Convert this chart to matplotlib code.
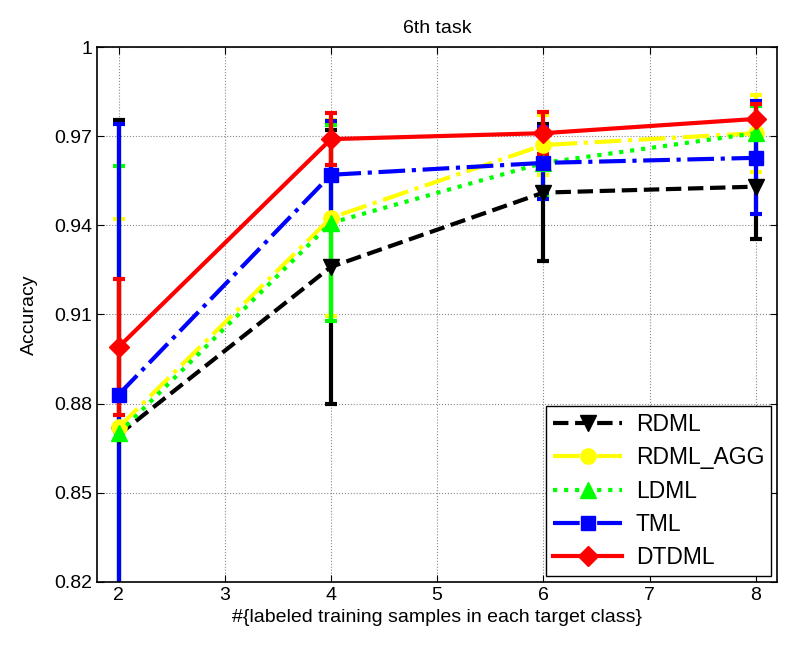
import numpy as np
import matplotlib
matplotlib.use('Agg')
import matplotlib.pyplot as plt
from matplotlib.lines import Line2D

plt.rcParams['font.family'] = ['Liberation Sans', 'DejaVu Sans']

samples = [2, 4, 6, 8]
methods = ['RDML', 'RDML_AGG', 'LDML', 'TML', 'DTDML']

rdml = [0.8695, 0.926, 0.951, 0.953]
rdml_err = [0.106, 0.046, 0.023, 0.0175]
rdml_agg = [0.872, 0.9425, 0.967, 0.971]
rdml_agg_err = [0.070, 0.033, 0.010, 0.013]
ldml = [0.870, 0.9408, 0.961, 0.971]
ldml_err = [0.090, 0.033, 0.011, 0.009]
tml = [0.883, 0.957, 0.961, 0.9627]
tml_err = [0.091, 0.018, 0.012, 0.019]
dtdml = [0.899, 0.969, 0.971, 0.9758]
dtdml_err = [0.023, 0.0088, 0.007, 0.005]

yticks = [0.82, 0.85, 0.88, 0.91, 0.94, 0.97, 1.0]
ytick_labels = ['0.82', '0.85', '0.88', '0.91', '0.94', '0.97', '1']

series = [
    (rdml, rdml_err, 'k', '--', 'v', 12),
    (rdml_agg, rdml_agg_err, '#ffff00', '-.', 'o', 11),
    (ldml, ldml_err, '#00ff00', ':', '^', 12),
    (tml, tml_err, '#0000ff', '-.', 's', 10),
    (dtdml, dtdml_err, '#ff0000', '-', 'D', 10),
]

fig = plt.figure(figsize=(8.11, 6.53), dpi=100)
ax = fig.add_axes([0.12, 0.109, 0.838, 0.819])

handles = []
for (vals, err, col, ls, mk, ms), name in zip(series, methods):
    ax.errorbar(samples, vals, yerr=err, color=col, linestyle=ls, marker=mk,
                markersize=ms, linewidth=3, elinewidth=3, capsize=4.5,
                capthick=3)
    handles.append(Line2D([], [], color=col, linestyle=ls, marker=mk,
                          markersize=ms, linewidth=3, label=name))

ax.set_xlim(1.8, 8.2)
ax.set_ylim(0.82, 1.0)
ax.set_xticks([2, 3, 4, 5, 6, 7, 8])
ax.set_yticks(yticks)
ax.set_yticklabels(ytick_labels)
ax.tick_params(direction='in', top=True, right=True, labelsize=14, length=5)
ax.grid(True, linestyle=':', color='#888888', linewidth=0.8)
for s in ax.spines.values():
    s.set_linewidth(1.2)

ax.set_title('6th task', fontsize=14, pad=10)
ax.set_xlabel('#{labeled training samples in each target class}', fontsize=14)
ax.set_ylabel('Accuracy', fontsize=14, labelpad=12)

leg = ax.legend(handles=handles, loc='lower right', fontsize=16.5,
                fancybox=False, framealpha=1, edgecolor='k',
                handlelength=3.0, borderpad=0.3, labelspacing=0.45,
                handletextpad=0.6, borderaxespad=0.25)
leg.get_frame().set_linewidth(1.0)

fig.savefig('out.png', dpi=100)
